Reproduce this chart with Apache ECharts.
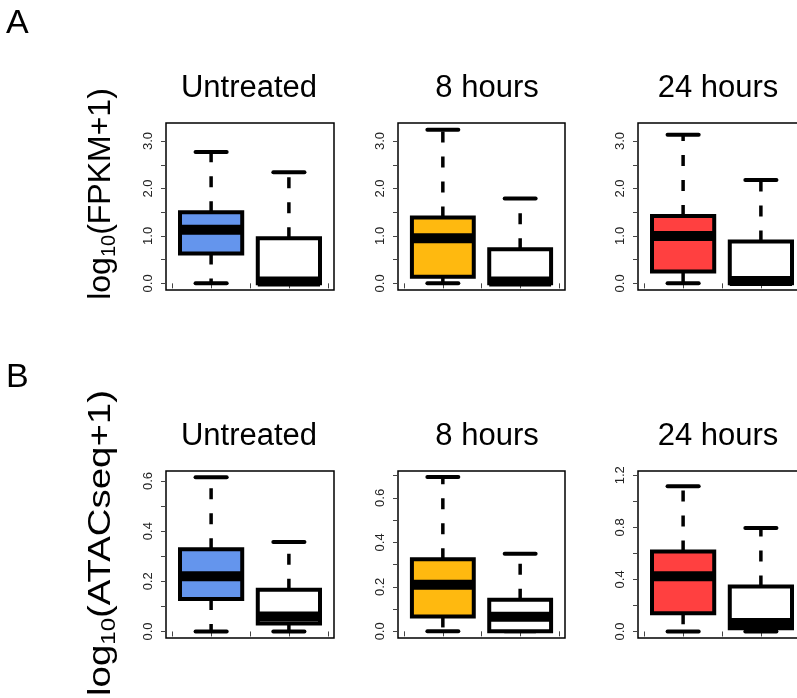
<!DOCTYPE html>
<html>
<head>
<meta charset="utf-8">
<script src="https://cdn.jsdelivr.net/npm/echarts@6/dist/echarts.min.js"></script>
<style>
html, body { margin: 0; padding: 0; background: #fff; }
#chart { width: 797px; height: 698px; }
</style>
</head>
<body>
<div id="chart"></div>
<script>
// panels, left to right
const timepoints = ['Untreated', '8 hours', '24 hours'];
const fillColors = ['#6495ED', '#FFB90F', '#FF4040'];

// box stats per panel: [min, Q1, median, Q3, max]
const fpkmFilled = [
    [0.0, 0.63, 1.13, 1.50, 2.77],
    [0.0, 0.14, 0.95, 1.39, 3.24],
    [0.0, 0.25, 1.00, 1.42, 3.13]
];
const fpkmOpen = [
    [0.0, 0.0, 0.04, 0.95, 2.34],
    [0.0, 0.0, 0.04, 0.72, 1.79],
    [0.0, 0.0, 0.05, 0.88, 2.18]
];
const atacFilled = [
    [0.0, 0.130, 0.220, 0.328, 0.615],
    [0.0, 0.067, 0.210, 0.324, 0.694],
    [0.0, 0.140, 0.425, 0.615, 1.116]
];
const atacOpen = [
    [0.0, 0.032, 0.060, 0.166, 0.357],
    [0.0, 0.000, 0.066, 0.142, 0.349],
    [0.0, 0.025, 0.066, 0.345, 0.796]
];

// axis ticks
const xTicks = [0.5, 1, 1.5, 2, 2.5];
const fpkmTicks = [0, 0.5, 1, 1.5, 2, 2.5, 3];
const fpkmLabels = [0, 1, 2, 3];
const atacTicks = [
    [0, 0.1, 0.2, 0.3, 0.4, 0.5, 0.6],
    [0, 0.1, 0.2, 0.3, 0.4, 0.5, 0.6, 0.7],
    [0, 0.2, 0.4, 0.6, 0.8, 1.0, 1.2]
];
const atacLabels = [
    [0, 0.2, 0.4, 0.6],
    [0, 0.2, 0.4, 0.6],
    [0, 0.4, 0.8, 1.2]
];

// layout
const panelLeft = [166, 398, 638];
const panelWidth = [168, 167, 168];
const rowTop = [123, 471];
const rowHeight = [167, 167];
const titleX = [249, 487, 718];
const fpkmRange = [-0.14, 3.38];
const atacRange = [[-0.026, 0.64], [-0.03, 0.721], [-0.05, 1.233]];

const font = "'Liberation Sans', Arial, Helvetica, sans-serif";

function boxRenderer(fills) {
    return function (params, api) {
        const x = api.value(0);
        const pt = v => api.coord([x, v]);
        const lo = pt(api.value(1)), q1 = pt(api.value(2)), md = pt(api.value(3)),
              q3 = pt(api.value(4)), hi = pt(api.value(5));
        const half = api.size([0.4, 0])[0];
        const cap = half / 2;
        const cx = lo[0];
        const whisker = { stroke: '#000', lineWidth: 3.5, lineDash: [11, 14] };
        const capStyle = { stroke: '#000', lineWidth: 4, lineCap: 'round' };
        return {
            type: 'group',
            children: [
                { type: 'line', shape: { x1: cx, y1: q3[1], x2: cx, y2: hi[1] }, style: whisker },
                { type: 'line', shape: { x1: cx, y1: q1[1], x2: cx, y2: lo[1] }, style: whisker },
                { type: 'line', shape: { x1: cx - cap, y1: hi[1], x2: cx + cap, y2: hi[1] }, style: capStyle },
                { type: 'line', shape: { x1: cx - cap, y1: lo[1], x2: cx + cap, y2: lo[1] }, style: capStyle },
                { type: 'rect', shape: { x: cx - half, y: q3[1], width: 2 * half, height: q1[1] - q3[1] },
                  style: { fill: fills[params.dataIndex], stroke: '#000', lineWidth: 4 } },
                { type: 'line', shape: { x1: cx - half, y1: md[1], x2: cx + half, y2: md[1] },
                  style: { stroke: '#000', lineWidth: 10 } }
            ]
        };
    };
}

const grids = [], xAxes = [], yAxes = [], series = [], graphics = [];

[0, 1].forEach(row => {
    timepoints.forEach((name, p) => {
        const idx = row * 3 + p;
        const filled = row === 0 ? fpkmFilled[p] : atacFilled[p];
        const open = row === 0 ? fpkmOpen[p] : atacOpen[p];
        const range = row === 0 ? fpkmRange : atacRange[p];
        const ticks = row === 0 ? fpkmTicks : atacTicks[p];
        const labels = row === 0 ? fpkmLabels : atacLabels[p];

        grids.push({
            left: panelLeft[p], top: rowTop[row], width: panelWidth[p], height: rowHeight[row],
            show: true, borderColor: '#000', borderWidth: 1.5, backgroundColor: 'transparent',
            containLabel: false, outerBoundsMode: 'none'
        });
        xAxes.push({
            type: 'value', gridIndex: idx, min: 0.42, max: 2.58,
            axisLine: { show: false },
            axisTick: { show: true, length: 5, customValues: xTicks, lineStyle: { color: '#444', width: 1 } },
            axisLabel: { show: false },
            splitLine: { show: false }
        });
        yAxes.push({
            type: 'value', gridIndex: idx, min: range[0], max: range[1],
            axisLine: { show: false },
            axisTick: { show: true, length: 5, customValues: ticks, lineStyle: { color: '#444', width: 1 } },
            axisLabel: {
                show: true, customValues: labels, rotate: 90, margin: 11,
                fontSize: 13, color: '#222', fontFamily: font,
                formatter: v => Number(v).toFixed(1)
            },
            splitLine: { show: false }
        });
        series.push({
            type: 'custom', xAxisIndex: idx, yAxisIndex: idx,
            renderItem: boxRenderer([fillColors[p], '#FFFFFF']),
            encode: { x: 0, y: [1, 2, 3, 4, 5] },
            data: [[1].concat(filled), [2].concat(open)],
            clip: false, silent: true
        });
        graphics.push({
            type: 'text', x: titleX[p], y: rowTop[row] - 35,
            style: { text: name, font: '31px ' + font, fill: '#000',
                     align: 'center', verticalAlign: 'middle', textAlign: 'center', textVerticalAlign: 'middle' }
        });
    });
});

// panel letters
[['A', 24], ['B', 378]].forEach(([t, y]) => {
    graphics.push({
        type: 'text', x: 6, y: y,
        style: { text: t, font: '34px ' + font, fill: '#000',
                 align: 'left', verticalAlign: 'middle', textAlign: 'left', textVerticalAlign: 'middle' }
    });
});

// y-axis titles
[['FPKM+1', 194, 1], ['ATACseq+1', 543, 1.2]].forEach(([t, y, stretch]) => {
    graphics.push({
        type: 'text', x: 101, y: y, rotation: Math.PI / 2, scaleX: stretch,
        style: {
            text: '{m|log}{s|10}{m|(' + t + ')}',
            align: 'center', verticalAlign: 'middle', textAlign: 'center', textVerticalAlign: 'middle',
            rich: {
                m: { fontSize: 32, fontFamily: font, fill: '#000', lineHeight: 36 },
                s: { fontSize: 20, fontFamily: font, fill: '#000', lineHeight: 20, verticalAlign: 'bottom' }
            }
        }
    });
});

const chart = echarts.init(document.getElementById('chart'), null, { renderer: 'canvas' });
chart.setOption({
    animation: false,
    backgroundColor: '#fff',
    grid: grids,
    xAxis: xAxes,
    yAxis: yAxes,
    series: series,
    graphic: graphics
});
</script>
</body>
</html>
